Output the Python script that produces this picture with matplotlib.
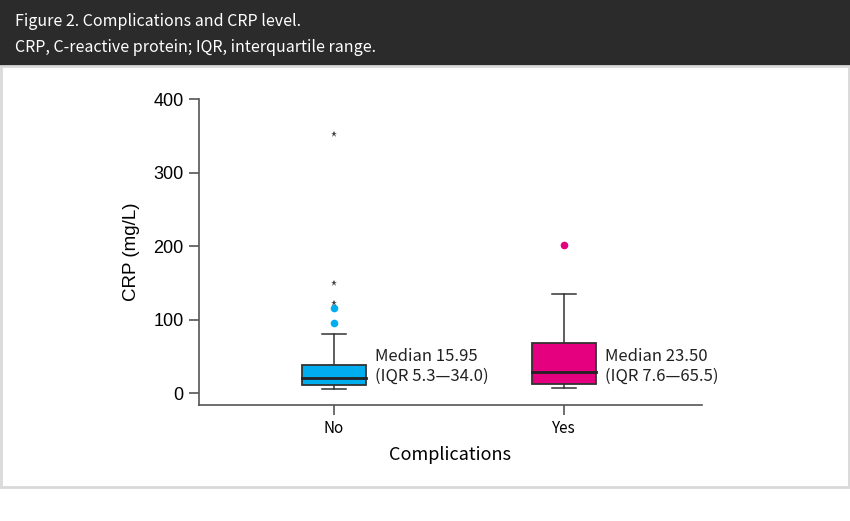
import matplotlib.pyplot as plt
from matplotlib.patches import Rectangle

# Figure 2. CRP by complication status
groups = ['No', 'Yes']
q1 = [10.9, 12.7]
medians = [20.9, 28.0]
q3 = [38.0, 68.5]
whisker_lo = [5.9, 6.4]
whisker_hi = [80.0, 135.0]
outliers_circle = [[95.0, 115.0], [201.6]]
outliers_star = [[122.0, 150.0, 352.0], []]
labels = ['Median 15.95\n(IQR 5.3\u201434.0)', 'Median 23.50\n(IQR 7.6\u201465.5)']
colors = ['#00AEEF', '#E4007F']

W, H = 850, 521
fig = plt.figure(figsize=(W / 100, H / 100), dpi=100)

# header band + light frame
fig.patches.append(Rectangle((0, 1 - 66 / H), 1, 66 / H, transform=fig.transFigure,
                             facecolor='#2b2b2b', edgecolor='none', zorder=0))
fig.patches.append(Rectangle((1 / W, (H - 487) / H), 848 / W, 421 / H, transform=fig.transFigure,
                             facecolor='none', edgecolor='#d9d9d9', linewidth=2, zorder=0))
hdr_font = ['Noto Sans CJK KR', 'DejaVu Sans']
fig.text(15 / W, 1 - 26 / H, 'Figure 2. Complications and CRP level.', color='white',
         fontsize=11.5, family=hdr_font, va='baseline')
fig.text(15 / W, 1 - 52 / H, 'CRP, C-reactive protein; IQR, interquartile range.', color='white',
         fontsize=11.5, family=hdr_font, va='baseline')

# axes: x spine 199..702 px, y from 99 (400) to 405 (bottom)
ax = fig.add_axes([199 / W, (H - 405) / H, (702 - 199) / W, (405 - 99) / H])
ax.set_xlim(-0.587, 1.6)
ax.set_ylim(-16.3, 400)

box_w = 0.274
cap_w = 0.105
for i in range(len(groups)):
    ax.add_patch(Rectangle((i - box_w / 2, q1[i]), box_w, q3[i] - q1[i],
                           facecolor=colors[i], edgecolor='#333333', linewidth=1.3, zorder=2))
    ax.plot([i - box_w / 2, i + box_w / 2], [medians[i], medians[i]], color='#222222', lw=2, zorder=3)
    ax.plot([i, i], [q3[i], whisker_hi[i]], color='#333333', lw=1.1, zorder=1)
    ax.plot([i, i], [q1[i], whisker_lo[i]], color='#333333', lw=1.1, zorder=1)
    ax.plot([i - cap_w / 2, i + cap_w / 2], [whisker_hi[i]] * 2, color='#333333', lw=1.1)
    ax.plot([i - cap_w / 2, i + cap_w / 2], [whisker_lo[i]] * 2, color='#333333', lw=1.1)
    if outliers_circle[i]:
        ax.plot([i] * len(outliers_circle[i]), outliers_circle[i], 'o', color=colors[i],
                markersize=5.5, markeredgewidth=0, zorder=4)
    if outliers_star[i]:
        ax.plot([i] * len(outliers_star[i]), outliers_star[i], '*', color='#444444',
                markersize=4.5, markeredgewidth=0, zorder=5)
    ax.text(i + 0.18, 36, labels[i], fontsize=12,
            family=hdr_font, color='#222222', va='center', linespacing=1.2)

ax.spines['top'].set_visible(False)
ax.spines['right'].set_visible(False)
ax.spines['left'].set_bounds(-16.3, 400)
for s in ('left', 'bottom'):
    ax.spines[s].set_color('#555555')
    ax.spines[s].set_linewidth(1.2)

ax.set_yticks([0, 100, 200, 300, 400])
ax.set_xticks([0, 1])
ax.set_xticklabels(groups, family=hdr_font, fontsize=11)
ax.tick_params(axis='y', length=7, width=1.2, color='#555555', labelsize=13, pad=4)
ax.tick_params(axis='x', length=7, width=1.2, color='#555555', pad=4)
for t in ax.get_yticklabels():
    t.set_family('Liberation Sans')
ax.set_ylabel('CRP (mg/L)', family='Liberation Sans', fontsize=13.5, labelpad=10)
ax.set_xlabel('Complications', family=hdr_font, fontsize=13, labelpad=6)

fig.savefig('out.png', dpi=100)
